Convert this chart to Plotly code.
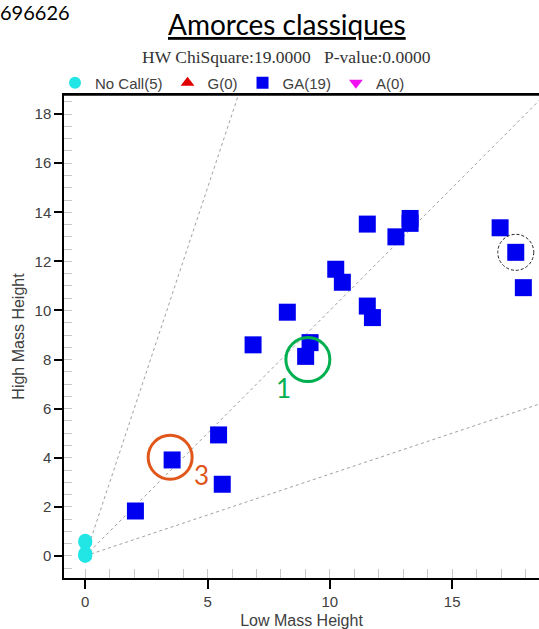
import plotly.graph_objects as go

W, H = 539, 629

# Genotype clusters: low / high mass peak heights
nocall_low = [0, 0, 0, 0, 0]
nocall_high = [0.62, 0.55, 0.10, 0.04, 0.0]

ga_low = [2.05, 3.55, 5.45, 5.60, 6.86, 8.26, 9.01, 9.19, 10.24, 10.51,
          11.53, 11.53, 11.74, 12.70, 13.28, 13.28, 16.96, 17.60, 17.91]
ga_high = [1.83, 3.91, 4.93, 2.92, 8.60, 9.93, 8.13, 8.69, 11.68, 11.15,
           13.52, 10.18, 9.71, 13.00, 13.75, 13.55, 13.37, 12.37, 10.93]

legend_names = ["No Call(5)", "G(0)", "GA(19)", "A(0)"]

# Cluster boundary slopes (high / low)
boundary_slopes = [3.0, 1.0, 1.0 / 3.0]

# Highlighted samples: (low, high, colour, label)
marked = [
    (9.10, 8.00, "#00B050", "1"),
    (3.47, 4.02, "#E0561B", "3"),
]
circled_low, circled_high = 17.60, 12.37

x_range = [-0.87, 18.55]
y_range = [-0.90, 18.78]

fig = go.Figure()

for s in boundary_slopes:
    x_end = 40.0
    fig.add_trace(go.Scatter(
        x=[0, x_end], y=[0, s * x_end], mode="lines",
        line=dict(color="#A0A0A0", width=1, dash="3px,3px"),
        showlegend=False, hoverinfo="skip"))

fig.add_trace(go.Scatter(
    x=nocall_low, y=nocall_high, mode="markers", name=legend_names[0],
    marker=dict(symbol="circle", size=14, color="#22E6E6")))
fig.add_trace(go.Scatter(
    x=[None], y=[None], mode="markers", name=legend_names[1],
    marker=dict(symbol="triangle-up", size=14, color="#E00000")))
fig.add_trace(go.Scatter(
    x=ga_low, y=ga_high, mode="markers", name=legend_names[2],
    marker=dict(symbol="square", size=17, color="#0000F0")))
fig.add_trace(go.Scatter(
    x=[None], y=[None], mode="markers", name=legend_names[3],
    marker=dict(symbol="triangle-down", size=14, color="#F010F0")))

top_px, bottom_px, left_px = 95, 578, 64
x_dom = [left_px / W, 1.0]
y_dom = [1 - bottom_px / H, 1 - top_px / H]

tick_font = dict(family="Liberation Sans, Arial", size=15, color="#404040")

fig.update_layout(
    width=W, height=H,
    margin=dict(l=0, r=0, t=0, b=0),
    paper_bgcolor="white", plot_bgcolor="white",
    showlegend=True,
    legend=dict(orientation="h", x=55 / W, xanchor="left",
                y=1 - 83 / H, yanchor="middle",
                font=dict(family="Liberation Sans, Arial", size=15, color="#404040"),
                itemsizing="constant", bgcolor="rgba(255,255,255,0)",
                borderwidth=0),
    xaxis=dict(domain=x_dom, range=x_range, showgrid=False, zeroline=False,
               showline=True, linecolor="black", linewidth=1.5, mirror=True,
               tickvals=[0, 5, 10, 15], ticks="outside", ticklen=9,
               tickcolor="black", tickwidth=1.5, tickfont=tick_font,
               minor=dict(dtick=1, tick0=0, ticks="inside", ticklen=9,
                          tickcolor="#C8C8C8", tickwidth=1),
               title=dict(text="Low Mass Height", standoff=6,
                          font=dict(family="Liberation Sans, Arial", size=16, color="#404040"))),
    yaxis=dict(domain=y_dom, range=y_range, showgrid=False, zeroline=False,
               showline=True, linecolor="black", linewidth=1.5,
               tickvals=list(range(0, 19, 2)), ticks="outside", ticklen=8,
               tickcolor="black", tickwidth=1.5, tickfont=tick_font,
               minor=dict(dtick=0.5, tick0=0, ticks="inside", ticklen=8,
                          tickcolor="#C8C8C8", tickwidth=1),
               title=dict(text="High Mass Height", standoff=6,
                          font=dict(family="Liberation Sans, Arial", size=16, color="#404040"))),
)

# top frame line of the plot area
fig.add_shape(type="line", xref="paper", yref="paper", layer="above",
              x0=(left_px - 0.75) / W, x1=1, y0=1 - top_px / H, y1=1 - top_px / H,
              line=dict(color="black", width=1.5))

for lx, hy, col, lab in marked:
    fig.add_shape(type="circle", xref="x", yref="y",
                  xsizemode="pixel", ysizemode="pixel",
                  xanchor=lx, yanchor=hy, x0=-22, x1=22, y0=-22, y1=22,
                  line=dict(color=col, width=3))
    fig.add_annotation(x=lx, y=hy, xref="x", yref="y", text=lab,
                       showarrow=False, xshift=31 if lab == "3" else -24,
                       yshift=-18 if lab == "3" else -28,
                       font=dict(family="Lato, sans-serif", size=26, color=col))
fig.add_shape(type="circle", xref="x", yref="y",
              xsizemode="pixel", ysizemode="pixel",
              xanchor=circled_low, yanchor=circled_high,
              x0=-18, x1=18, y0=-18, y1=18,
              line=dict(color="#202020", width=1, dash="3px,2px"))

fig.add_annotation(x=287 / W, y=1 - 24 / H, xref="paper", yref="paper",
                   text="<u>Amorces classiques</u>", showarrow=False,
                   xanchor="center", yanchor="middle",
                   font=dict(family="Lato, sans-serif", size=28, color="black"))
fig.add_annotation(x=286 / W, y=1 - 57 / H, xref="paper", yref="paper",
                   text="HW ChiSquare:19.0000   P-value:0.0000", showarrow=False,
                   xanchor="center", yanchor="middle",
                   font=dict(family="Liberation Serif, Times New Roman", size=17.5,
                             color="#333333"))
fig.add_annotation(x=-2 / W, y=1.0, xref="paper", yref="paper",
                   text="696626", showarrow=False, xanchor="left", yanchor="top",
                   yshift=2,
                   font=dict(family="Lato, sans-serif", size=20, color="black"))

fig.write_html("out.html")
